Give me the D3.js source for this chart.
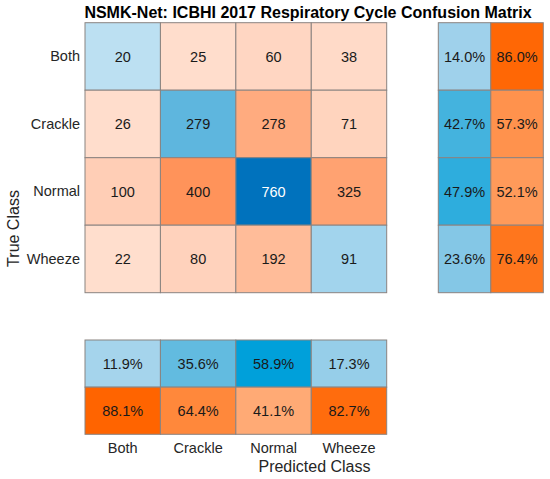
<!DOCTYPE html>
<html>
<head>
<meta charset="utf-8">
<script src="https://cdn.jsdelivr.net/npm/d3@7"></script>
<style>
  body { margin: 0; background: #fff; }
  svg { font-family: "Liberation Sans", Arial, sans-serif; }
</style>
</head>
<body>
<div id="chart"></div>
<script>
var classes = ["Both", "Crackle", "Normal", "Wheeze"];

// rows = true class, columns = predicted class
var countsBoth    = [20, 25, 60, 38];
var countsCrackle = [26, 279, 278, 71];
var countsNormal  = [100, 400, 760, 325];
var countsWheeze  = [22, 80, 192, 91];

// row summary (per true class)
var rowCorrect = [14.0, 42.7, 47.9, 23.6];
var rowWrong   = [86.0, 57.3, 52.1, 76.4];

// column summary (per predicted class)
var colCorrect = [11.9, 35.6, 58.9, 17.3];
var colWrong   = [88.1, 64.4, 41.1, 82.7];

var width = 550, height = 479;
var grid = "#8a8380";
var fs = "14.5px";

var matrix = [countsBoth, countsCrackle, countsNormal, countsWheeze];
var cells = [];
matrix.forEach(function(row, i) {
    row.forEach(function(v, j) {
        cells.push({"true": classes[i], "pred": classes[j], "value": v});
    });
});

var x = d3.scaleBand().domain(classes).range([85, 386.7]);
var y = d3.scaleBand().domain(classes).range([22.7, 292.7]);
var xs = d3.scaleBand().domain(["correct", "wrong"]).range([438.3, 543.3]);
var ys = d3.scaleBand().domain(["correct", "wrong"]).range([340, 434.3]);

var diagColor = d3.scaleLinear().domain([0, 279, 760])
                  .range(["#c3e3f4", "#5eb6de", "#0072bd"]);
var offColor = d3.scaleLinear().domain([0, 400])
                 .range(["#ffe2d4", "#ff935a"]);
var sumBlue = d3.scaleLinear().domain([0, 35.6, 58.9])
                .range(["#c7e0f2", "#62bbe0", "#00a0da"]);
var sumOrange = d3.scaleLinear().domain([0, 88.1])
                  .range(["#ffe8dc", "#ff6400"]);

function textColor(c) {
    return d3.lab(c).l < 50 ? "#ffffff" : "#1a1a1a";
}

var svg = d3.select("#chart").append("svg")
            .attr("width", width)
            .attr("height", height);

// main matrix
var g = svg.append("g");
g.selectAll("rect.cell")
    .data(cells)
    .enter().append("rect")
    .attr("class", "cell")
    .attr("x", function(d) { return x(d.pred); })
    .attr("y", function(d) { return y(d.true); })
    .attr("width", x.bandwidth())
    .attr("height", y.bandwidth())
    .attr("fill", function(d) { return d.true === d.pred ? diagColor(d.value) : offColor(d.value); })
    .attr("stroke", grid)
    .attr("stroke-width", 1);

g.selectAll("text.cell")
    .data(cells)
    .enter().append("text")
    .attr("class", "cell")
    .attr("x", function(d) { return x(d.pred) + x.bandwidth() / 2; })
    .attr("y", function(d) { return y(d.true) + y.bandwidth() / 2; })
    .attr("dy", "0.35em")
    .attr("text-anchor", "middle")
    .attr("font-size", fs)
    .attr("fill", function(d) {
        return textColor(d.true === d.pred ? diagColor(d.value) : offColor(d.value));
    })
    .text(function(d) { return d.value; });

// row summary
var rowData = [];
classes.forEach(function(c, i) {
    rowData.push({"cls": c, "kind": "correct", "value": rowCorrect[i]});
    rowData.push({"cls": c, "kind": "wrong", "value": rowWrong[i]});
});

var colData = [];
classes.forEach(function(c, i) {
    colData.push({"cls": c, "kind": "correct", "value": colCorrect[i]});
    colData.push({"cls": c, "kind": "wrong", "value": colWrong[i]});
});

function sumFill(d) { return d.kind === "correct" ? sumBlue(d.value) : sumOrange(d.value); }

var gr = svg.append("g");
gr.selectAll("rect")
    .data(rowData)
    .enter().append("rect")
    .attr("x", function(d) { return xs(d.kind); })
    .attr("y", function(d) { return y(d.cls); })
    .attr("width", xs.bandwidth())
    .attr("height", y.bandwidth())
    .attr("fill", sumFill)
    .attr("stroke", grid);

gr.selectAll("text")
    .data(rowData)
    .enter().append("text")
    .attr("x", function(d) { return xs(d.kind) + xs.bandwidth() / 2; })
    .attr("y", function(d) { return y(d.cls) + y.bandwidth() / 2; })
    .attr("dy", "0.35em")
    .attr("text-anchor", "middle")
    .attr("font-size", fs)
    .attr("fill", function(d) { return textColor(sumFill(d)); })
    .text(function(d) { return d.value.toFixed(1) + "%"; });

// column summary
var gc = svg.append("g");
gc.selectAll("rect")
    .data(colData)
    .enter().append("rect")
    .attr("x", function(d) { return x(d.cls); })
    .attr("y", function(d) { return ys(d.kind); })
    .attr("width", x.bandwidth())
    .attr("height", ys.bandwidth())
    .attr("fill", sumFill)
    .attr("stroke", grid);

gc.selectAll("text")
    .data(colData)
    .enter().append("text")
    .attr("x", function(d) { return x(d.cls) + x.bandwidth() / 2; })
    .attr("y", function(d) { return ys(d.kind) + ys.bandwidth() / 2; })
    .attr("dy", "0.35em")
    .attr("text-anchor", "middle")
    .attr("font-size", fs)
    .attr("fill", function(d) { return textColor(sumFill(d)); })
    .text(function(d) { return d.value.toFixed(1) + "%"; });

// axes
var yAxis = d3.axisLeft(y).tickSize(0).tickPadding(5);
svg.append("g")
    .attr("transform", "translate(85,0)")
    .call(yAxis)
    .call(function(a) { a.select(".domain").remove(); })
    .selectAll("text")
    .attr("font-size", fs)
    .attr("font-family", "Liberation Sans, Arial, sans-serif")
    .attr("fill", "#262626");

var xAxis = d3.axisBottom(x).tickSize(0).tickPadding(8.5);
svg.append("g")
    .attr("transform", "translate(0,434.3)")
    .call(xAxis)
    .call(function(a) { a.select(".domain").remove(); })
    .selectAll("text")
    .attr("font-size", fs)
    .attr("font-family", "Liberation Sans, Arial, sans-serif")
    .attr("fill", "#262626");

// labels
svg.append("text")
    .attr("x", 314.5)
    .attr("y", 471.7)
    .attr("text-anchor", "middle")
    .attr("font-size", "16px")
    .attr("fill", "#262626")
    .text("Predicted Class");

svg.append("text")
    .attr("transform", "translate(18.5,228.5) rotate(-90)")
    .attr("text-anchor", "middle")
    .attr("font-size", "16px")
    .attr("fill", "#262626")
    .text("True Class");

svg.append("text")
    .attr("x", 308)
    .attr("y", 18)
    .attr("text-anchor", "middle")
    .attr("font-size", "16px")
    .attr("font-weight", "bold")
    .attr("fill", "#000")
    .text("NSMK-Net: ICBHI 2017 Respiratory Cycle Confusion Matrix");
</script>
</body>
</html>
